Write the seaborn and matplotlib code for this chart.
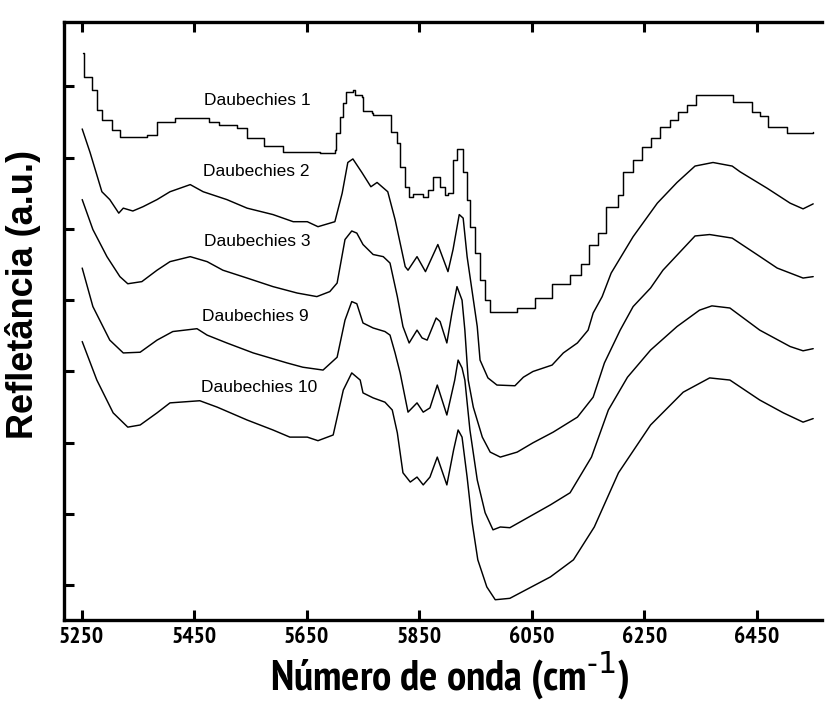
import os
import numpy as np
import pandas as pd
import matplotlib
matplotlib.use('Agg')
import matplotlib.pyplot as plt
from matplotlib import font_manager
import seaborn as sns

# Daubechies 1 (staircase shape)
wn_d1 = [5252, 5254, 5268, 5277, 5286, 5304, 5318, 5366, 5384, 5416, 5476, 5494,
         5526, 5544, 5574, 5608, 5674, 5700, 5702, 5709, 5715, 5720, 5732, 5736,
         5748, 5750, 5766, 5768, 5800, 5811, 5816, 5825, 5832, 5839, 5857, 5866,
         5874, 5882, 5887, 5896, 5901, 5910, 5917, 5928, 5935, 5940, 5949, 5958,
         5967, 5976, 6024, 6056, 6086, 6118, 6138, 6152, 6168, 6182, 6204, 6212,
         6230, 6246, 6261, 6277, 6295, 6310, 6326, 6341, 6408, 6442, 6455, 6470,
         6503, 6550]
r_d1 = [7.47, 7.13, 6.95, 6.67, 6.53, 6.39, 6.29, 6.32, 6.50, 6.56, 6.50, 6.46,
        6.42, 6.28, 6.16, 6.08, 6.07, 6.11, 6.35, 6.57, 6.77, 6.92, 6.95, 6.88,
        6.85, 6.65, 6.63, 6.60, 6.36, 6.21, 5.87, 5.59, 5.45, 5.49, 5.45, 5.55,
        5.72, 5.73, 5.59, 5.48, 5.50, 5.97, 6.12, 5.79, 5.41, 5.03, 4.66, 4.28,
        4.00, 3.84, 3.89, 4.03, 4.23, 4.35, 4.51, 4.78, 4.94, 5.31, 5.48, 5.79,
        5.97, 6.15, 6.28, 6.43, 6.53, 6.64, 6.74, 6.88, 6.78, 6.64, 6.58, 6.43,
        6.35, 6.36]

# Daubechies 2
wn_d2 = [5251, 5265, 5286, 5300, 5316, 5324, 5341, 5359, 5384, 5407, 5443, 5466,
         5508, 5544, 5590, 5626, 5651, 5670, 5700, 5713, 5723, 5732, 5748, 5764,
         5775, 5794, 5807, 5825, 5830, 5846, 5861, 5883, 5901, 5910, 5921, 5928,
         5935, 5953, 5958, 5972, 5988, 6020, 6035, 6052, 6086, 6106, 6131, 6150,
         6159, 6175, 6191, 6230, 6273, 6308, 6340, 6372, 6406, 6420, 6468, 6509,
         6532, 6550]
r_d2 = [6.40, 6.07, 5.52, 5.41, 5.22, 5.29, 5.25, 5.31, 5.41, 5.52, 5.62, 5.52,
        5.41, 5.29, 5.20, 5.10, 5.10, 5.03, 5.10, 5.50, 5.93, 5.98, 5.79, 5.59,
        5.65, 5.52, 5.13, 4.47, 4.42, 4.61, 4.40, 4.78, 4.40, 4.71, 5.20, 5.15,
        4.61, 3.63, 3.16, 2.91, 2.81, 2.80, 2.92, 3.00, 3.09, 3.26, 3.40, 3.58,
        3.82, 4.05, 4.38, 4.89, 5.36, 5.65, 5.88, 5.93, 5.88, 5.80, 5.57, 5.36,
        5.28, 5.35]

# Daubechies 3
wn_d3 = [5251, 5270, 5295, 5318, 5332, 5357, 5384, 5407, 5443, 5473, 5501, 5544,
         5590, 5633, 5668, 5691, 5704, 5718, 5730, 5739, 5750, 5768, 5786, 5798,
         5811, 5821, 5832, 5846, 5855, 5864, 5880, 5887, 5899, 5908, 5917, 5926,
         5931, 5937, 5946, 5962, 5976, 5994, 6024, 6052, 6088, 6131, 6159, 6179,
         6207, 6230, 6261, 6283, 6340, 6366, 6406, 6450, 6486, 6509, 6532, 6550]
r_d3 = [5.41, 4.99, 4.61, 4.33, 4.23, 4.26, 4.42, 4.54, 4.61, 4.54, 4.42, 4.31,
        4.19, 4.10, 4.05, 4.12, 4.24, 4.85, 4.97, 4.94, 4.78, 4.64, 4.61, 4.52,
        4.05, 3.63, 3.40, 3.58, 3.47, 3.44, 3.75, 3.70, 3.40, 3.82, 4.19, 4.00,
        3.58, 2.88, 2.50, 2.08, 1.87, 1.80, 1.87, 2.00, 2.15, 2.36, 2.64, 3.12,
        3.58, 3.91, 4.17, 4.42, 4.90, 4.92, 4.87, 4.64, 4.45, 4.38, 4.31, 4.33]

# Daubechies 9
wn_d9 = [5251, 5270, 5300, 5324, 5354, 5384, 5412, 5455, 5473, 5508, 5555, 5615,
         5643, 5679, 5704, 5718, 5730, 5739, 5750, 5768, 5789, 5798, 5807, 5816,
         5830, 5846, 5857, 5869, 5882, 5899, 5913, 5919, 5926, 5931, 5940, 5953,
         5967, 5981, 5994, 6011, 6083, 6118, 6156, 6186, 6220, 6261, 6308, 6348,
         6370, 6402, 6455, 6509, 6532, 6550]
r_d9 = [4.45, 3.91, 3.44, 3.26, 3.27, 3.44, 3.56, 3.60, 3.51, 3.40, 3.26, 3.12,
        3.06, 3.02, 3.20, 3.72, 3.98, 3.95, 3.68, 3.61, 3.56, 3.51, 3.26, 2.98,
        2.43, 2.56, 2.43, 2.49, 2.81, 2.39, 2.88, 3.16, 3.05, 2.88, 2.18, 1.48,
        1.02, 0.78, 0.82, 0.81, 1.13, 1.30, 1.80, 2.46, 2.92, 3.30, 3.63, 3.86,
        3.92, 3.89, 3.58, 3.35, 3.29, 3.32]

# Daubechies 10
wn_d10 = [5251, 5277, 5306, 5332, 5354, 5384, 5407, 5460, 5491, 5544, 5590, 5620,
          5651, 5670, 5697, 5715, 5730, 5745, 5750, 5768, 5789, 5802, 5811, 5821,
          5834, 5846, 5857, 5869, 5882, 5899, 5911, 5919, 5926, 5935, 5944, 5954,
          5970, 5985, 6011, 6083, 6124, 6161, 6204, 6261, 6319, 6366, 6402, 6455,
          6497, 6532, 6550]
r_d10 = [3.42, 2.88, 2.42, 2.22, 2.25, 2.42, 2.56, 2.59, 2.50, 2.32, 2.18, 2.08,
         2.08, 2.03, 2.11, 2.74, 2.98, 2.88, 2.70, 2.63, 2.57, 2.46, 2.14, 1.58,
         1.45, 1.52, 1.41, 1.52, 1.80, 1.41, 1.90, 2.18, 2.08, 1.52, 0.88, 0.36,
         -0.02, -0.20, -0.18, 0.12, 0.36, 0.82, 1.58, 2.25, 2.71, 2.91, 2.88, 2.60,
         2.42, 2.29, 2.34]

labels = ['Daubechies 1', 'Daubechies 2', 'Daubechies 3', 'Daubechies 9', 'Daubechies 10']
label_wn = [5562, 5560, 5562, 5558, 5565]
label_r = [6.80, 5.80, 4.82, 3.77, 2.78]
xticks = [5250, 5450, 5650, 5850, 6050, 6250, 6450]


def find_narrow_bold():
    files = [f.fname for f in font_manager.fontManager.ttflist]
    prefs = [('Narrow', 'Bold'), ('Condensed', 'Bold'), ('Cond', 'Bold')]
    for a, b in prefs:
        for fn in files:
            base = os.path.basename(fn)
            if a in base and b in base and 'Italic' not in base and 'Oblique' not in base \
                    and 'Semi' not in base and 'Extra' not in base:
                return fn
    return None


narrow_path = find_narrow_bold()
if narrow_path:
    tick_fp = font_manager.FontProperties(fname=narrow_path, size=17)
    xlab_fp = font_manager.FontProperties(fname=narrow_path, size=31)
else:
    tick_fp = font_manager.FontProperties(family='Liberation Sans', weight='bold', size=14)
    xlab_fp = font_manager.FontProperties(family='Liberation Sans', weight='bold', size=24)

sns.set_theme(style='ticks')
plt.rcParams['font.family'] = ['Liberation Sans', 'DejaVu Sans']
for k in ['text.color', 'axes.labelcolor', 'xtick.color', 'ytick.color', 'axes.edgecolor']:
    plt.rcParams[k] = 'black'
plt.rcParams['mathtext.fontset'] = 'custom'
plt.rcParams['mathtext.rm'] = 'Liberation Sans:bold'
plt.rcParams['mathtext.default'] = 'rm'

fig = plt.figure(figsize=(8.25, 7.02), dpi=100)
ax = fig.add_axes([0.0776, 0.1168, 0.9188, 0.8519])

series = [(wn_d1, r_d1), (wn_d2, r_d2), (wn_d3, r_d3), (wn_d9, r_d9), (wn_d10, r_d10)]
for i, (x, y) in enumerate(series):
    df = pd.DataFrame({'wn': x, 'r': y})
    sns.lineplot(data=df, x='wn', y='r', ax=ax, color='black', lw=1.05,
                 sort=False, estimator=None,
                 drawstyle='steps-post' if i == 0 else 'default')

for lab, x, y in zip(labels, label_wn, label_r):
    ax.text(x, y, lab, ha='center', va='center', fontsize=12.5, color='black')

ax.set_xlim(5218.7, 6565.7)
ax.set_ylim(-0.484, 7.90)
ax.set_xticks(xticks)
ax.set_xticklabels([str(t) for t in xticks])
for t in ax.get_xticklabels():
    t.set_fontproperties(tick_fp)
ax.set_yticks(range(8))
ax.tick_params(axis='y', labelleft=False)
ax.tick_params(which='major', direction='in', length=7, width=2.2,
               top=True, right=False, pad=5)
ax.minorticks_off()
for s in ax.spines.values():
    s.set_linewidth(2.4)
ax.spines['right'].set_visible(False)

ax.set_xlabel('Número de onda (cm$^{\\text{-1}}$)', fontproperties=xlab_fp)
try:
    fig.canvas.draw()
except Exception:
    ax.set_xlabel('Número de onda (cm$^{-1}$)', fontproperties=xlab_fp)
ax.xaxis.set_label_coords(0.509, -0.052)
ax.xaxis.label.set_va('top')
ax.set_ylabel('Refletância (a.u.)', fontsize=26, fontweight='bold')
ax.yaxis.set_label_coords(-0.03, 0.545)

fig.savefig('out.png', dpi=100)
